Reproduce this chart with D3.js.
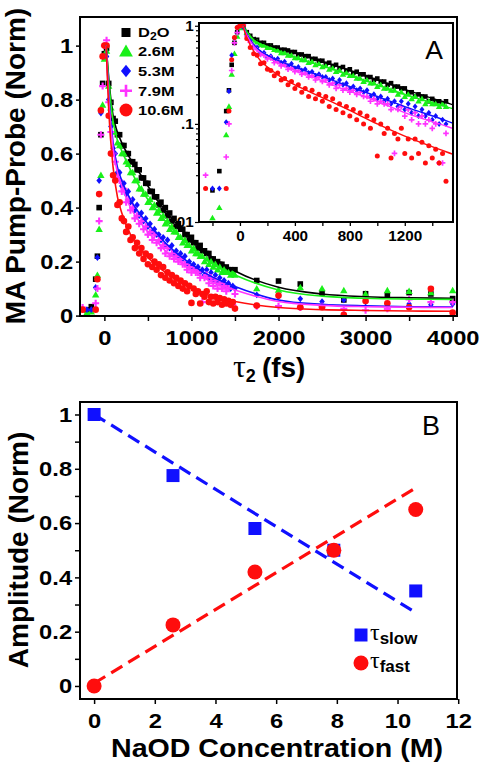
<!DOCTYPE html>
<html><head><meta charset="utf-8">
<script src="https://cdn.jsdelivr.net/npm/d3@7"></script>
<style>
body{margin:0;background:#fff}
svg{display:block}
text{font-family:"Liberation Sans",Arial,sans-serif}
</style>
</head><body>
<svg id="c" width="482" height="764"></svg>
<script>
// ---------------- DATA (panel A) ----------------
const times = [-250,-200,-150,-100,-80,-60,-40,-20,0,
25,50,75,100,125,150,175,200,225,250,
275,300,325,350,375,400,425,450,475,500,
525,550,575,600,625,650,675,700,725,750,
775,800,825,850,875,900,925,950,975,1000,
1025,1050,1075,1100,1125,1150,1175,1200,1225,1250,
1275,1300,1325,1350,1375,1400,1425,1450,1475,1500,
1750,2000,2250,2500,2750,3000,3250,3500,3750,4000];

const seriesD2O = [null,0.021,0.033,0.135,0.22,0.40,0.67,0.86,0.97,
0.99,0.86,0.79,0.73,0.72,0.67,0.67,0.63,0.63,0.60,
0.60,0.57,0.57,0.56,0.54,0.54,0.51,0.51,0.49,0.49,
0.46,0.46,0.44,0.44,0.41,0.42,0.39,0.40,0.37,0.38,
0.35,0.36,0.33,0.34,0.32,0.32,0.30,0.30,0.28,0.29,
0.27,0.27,0.25,0.26,0.24,0.24,0.23,0.23,0.21,0.21,
0.19,0.20,0.19,0.19,0.17,0.18,0.17,0.17,0.16,0.17,
0.13,0.128,0.117,0.083,0.058,0.081,0.076,0.085,0.08,0.063];

const series26 = [null,0.011,0.014,0.077,0.15,0.32,0.52,0.78,0.95,
0.98,0.85,0.77,0.71,0.68,0.64,0.63,0.60,0.60,0.57,
0.56,0.53,0.53,0.50,0.50,0.47,0.47,0.45,0.45,0.42,
0.43,0.40,0.41,0.38,0.39,0.36,0.37,0.34,0.35,0.32,
0.33,0.31,0.31,0.29,0.29,0.27,0.28,0.26,0.26,0.24,
0.25,0.23,0.23,0.22,0.22,0.20,0.21,0.19,0.20,0.18,
0.19,0.17,0.18,0.16,0.17,0.16,0.16,0.15,0.16,0.15,
0.10,0.095,0.104,0.10,0.093,0.08,0.093,0.09,0.085,0.093];

const series53 = [null,0.022,0.022,0.104,0.215,0.50,0.75,0.96,1.0,
0.96,0.80,0.70,0.62,0.60,0.53,0.53,0.48,0.49,0.45,
0.46,0.42,0.43,0.39,0.41,0.37,0.38,0.35,0.36,0.33,
0.34,0.31,0.32,0.30,0.30,0.28,0.29,0.26,0.28,0.25,
0.26,0.23,0.24,0.22,0.23,0.21,0.22,0.19,0.20,0.18,
0.19,0.17,0.18,0.16,0.17,0.15,0.17,0.14,0.16,0.13,
0.15,0.12,0.14,0.12,0.13,0.11,0.12,0.10,0.11,0.10,
0.077,0.07,0.062,0.052,0.058,0.05,0.04,0.043,0.04,0.043];

const series79 = [0.030,null,null,0.046,0.10,0.35,0.67,0.85,1.0,
1.02,0.79,0.68,0.60,0.57,0.51,0.50,0.46,0.47,0.42,
0.43,0.39,0.40,0.36,0.37,0.34,0.35,0.32,0.33,0.30,
0.31,0.28,0.30,0.27,0.28,0.25,0.26,0.23,0.25,0.22,
0.23,0.21,0.22,0.20,0.21,0.19,0.19,0.17,0.18,0.16,
0.17,0.16,0.16,0.14,0.05,0.14,0.15,0.12,0.14,0.11,
0.13,0.10,0.12,0.10,0.11,0.09,0.10,0.04,0.04,0.08,
0.035,0.035,0.03,0.035,0.025,0.02,0.025,0.06,0.05,0.05];

const series106 = [0.022,null,null,0.022,0.135,0.45,0.76,0.96,1.0,
1.0,0.74,0.60,0.52,0.50,0.41,0.42,0.36,0.35,0.31,
0.33,0.28,0.29,0.25,0.27,0.23,0.25,0.21,0.23,0.19,
0.22,0.18,0.20,0.17,0.19,0.15,0.18,0.14,0.16,0.13,
0.15,0.12,0.14,0.11,0.13,0.10,0.12,0.09,0.11,0.047,
0.10,0.08,0.09,0.045,0.08,0.07,0.09,0.05,0.07,0.045,
0.07,0.05,0.065,0.04,0.06,0.045,0.055,0.04,0.05,0.026,
0.037,0.074,0.031,0.031,0.003,0.054,0.046,0.031,0.099,0.011];

const seriesLabels = ["D2O","2.6M","5.3M","7.9M","10.6M"];

// fit curves (sampled)
const fitTimes = [20,50,100,150,200,300,400,500,600,700,800,1000,1200,1500,2000,2500,3000,3500,4000];
const fitD2O = [1.0,0.88,0.74,0.68,0.64,0.58,0.53,0.48,0.43,0.39,0.35,0.28,0.225,0.165,0.105,0.08,0.07,0.066,0.064];
const fit26  = [1.0,0.87,0.72,0.65,0.61,0.54,0.48,0.43,0.39,0.35,0.315,0.25,0.20,0.15,0.095,0.072,0.064,0.061,0.06];
const fit53  = [1.0,0.82,0.64,0.55,0.50,0.43,0.38,0.34,0.305,0.27,0.24,0.19,0.15,0.108,0.058,0.042,0.036,0.033,0.032];
const fit79  = [1.0,0.80,0.62,0.53,0.48,0.40,0.35,0.31,0.275,0.24,0.215,0.17,0.13,0.095,0.052,0.038,0.033,0.031,0.03];
const fit106 = [1.0,0.76,0.55,0.44,0.38,0.30,0.25,0.215,0.185,0.16,0.137,0.10,0.075,0.052,0.03,0.022,0.019,0.017,0.016];

// ticks
const mainXTicks = [0,1000,2000,3000,4000];
const mainXLabels = ["0","1000","2000","3000","4000"];
const mainXMinor = [500,1500,2500,3500];
const mainYTicks = [0,0.2,0.4,0.6,0.8,1];
const mainYLabels = ["0","0.2","0.4","0.6","0.8","1"];
const insetXTicks = [0,400,800,1200];
const insetXLabels = ["0","400","800","1200"];
const insetXMinor = [-200,200,600,1000,1400];
const insetYTicks = [0.01,0.1,1];
const insetYLabels = [".01",".1","1"];
const insetYMinor = [0.02,0.03,0.04,0.05,0.06,0.07,0.08,0.09,0.2,0.3,0.4,0.5,0.6,0.7,0.8,0.9];

// ---------------- DATA (panel B) ----------------
const concentrations = [0,2.6,5.3,7.9,10.6];
const ampSlow = [1.0,0.775,0.58,0.50,0.35];
const ampFast = [0.0,0.225,0.42,0.50,0.65];
const fitConc = [0,10.6];
const fitSlowLine = [1.0,0.27];
const fitFastLine = [0.01,0.73];
const bXTicks = [0,2,4,6,8,10,12];
const bXLabels = ["0","2","4","6","8","10","12"];
const bYTicks = [0,0.2,0.4,0.6,0.8,1];
const bYLabels = ["0","0.2","0.4","0.6","0.8","1"];
const bYMinor = [0.1,0.3,0.5,0.7,0.9];

// ---------------- STYLE ----------------
const colors = ["#000000","#19f019","#1010ff","#ff33ff","#ff0d0d"];
const shapes = ["square","triangle","diamond","plus","circle"];
const mainSizes = [5.6,6.4,6.8,7,6.6];
const insetSizes = [4.6,5.6,6,5.6,5];

function markerPath(shape, s){
  const h = s/2;
  switch(shape){
    case "square": return `M${-h},${-h}h${s}v${s}h${-s}Z`;
    case "triangle": { const w = s*1.15; return `M0,${-s*0.58}L${w/2},${s*0.42}L${-w/2},${s*0.42}Z`; }
    case "diamond": return `M0,${-h}L${h*0.82},0L0,${h}L${-h*0.82},0Z`;
    case "plus": return `M${-h},0H${h}M0,${-h}V${h}`;
    case "circle": return `M${h},0A${h},${h} 0 1,1 ${-h},0A${h},${h} 0 1,1 ${h},0Z`;
  }
}
function styleMarker(sel, shape, color, s){
  if(shape==="plus") sel.attr("fill","none").attr("stroke",color).attr("stroke-width",Math.max(1.6,s*0.3));
  else sel.attr("fill",color).attr("stroke","none");
}

const svg = d3.select("#c");
svg.append("rect").attr("width",482).attr("height",764).attr("fill","#fff");
const defs = svg.append("defs");

const allSeries = [seriesD2O,series26,series53,series79,series106];
const allFits = [fitD2O,fit26,fit53,fit79,fit106];

function styleAxis(g, size, sx, sw){
  g.selectAll(".domain").remove();
  g.selectAll(".tick text").attr("font-size",size).attr("font-weight","bold").attr("fill","#000")
    .attr("transform",`scale(${sx},1)`);
  g.selectAll("line").attr("stroke","#000").attr("stroke-width",sw);
}

// ================= PANEL A =================
const M = {l:80,r:457,t:17,b:316};
const xM = d3.scaleLinear().domain([-280,4050]).range([M.l,M.r]);
const yM = d3.scaleLinear().domain([-0.0015,1.106]).range([M.b,M.t]);

defs.append("clipPath").attr("id","clipM").append("rect")
  .attr("x",M.l).attr("y",M.t).attr("width",M.r-M.l).attr("height",M.b-M.t);

const gxM = svg.append("g").attr("transform",`translate(0,${M.b})`)
  .call(d3.axisBottom(xM).tickValues(mainXTicks).tickFormat((d,i)=>mainXLabels[i]).tickSize(5).tickPadding(9).tickSizeOuter(0));
gxM.append("g").call(d3.axisBottom(xM).tickValues(mainXMinor).tickSize(5).tickFormat("").tickSizeOuter(0));
styleAxis(gxM,21,1.13,1.5);

const gyM = svg.append("g").attr("transform",`translate(${M.l},0)`)
  .call(d3.axisLeft(yM).tickValues(mainYTicks).tickFormat((d,i)=>mainYLabels[i]).tickSize(4).tickPadding(2).tickSizeOuter(0));
styleAxis(gyM,21,1.13,1.5);

const gData = svg.append("g").attr("clip-path","url(#clipM)");
allSeries.forEach((vals,si)=>{
  const pts = times.map((t,i)=>({t,v:vals[i]})).filter(d=>d.v!=null);
  gData.append("g").selectAll("path").data(pts).join("path")
    .attr("d",markerPath(shapes[si],mainSizes[si]))
    .attr("transform",d=>`translate(${xM(d.t)},${yM(d.v)})`)
    .call(sel=>styleMarker(sel,shapes[si],colors[si],mainSizes[si]));
});
const lineM = d3.line().x(d=>xM(d.t)).y(d=>yM(d.v)).curve(d3.curveMonotoneX);
allFits.forEach((vals,si)=>{
  const pts = fitTimes.map((t,i)=>({t,v:vals[i]}));
  gData.append("path").attr("d",lineM(pts)).attr("fill","none")
    .attr("stroke",colors[si]).attr("stroke-width",1.6);
});

// legend A
const legY = [32.5,51.5,71,90.8,110];
const legBase = [37,56,76,95.5,114.5];
seriesLabels.forEach((lab,i)=>{
  const s = [9,12,12.4,12,13][i];
  const p = svg.append("path").attr("d",markerPath(shapes[i],s))
    .attr("transform",`translate(126,${legY[i]})`);
  styleMarker(p,shapes[i],colors[i],s);
  if(shapes[i]==="plus") p.attr("stroke-width",2.6);
  const t = svg.append("text").attr("transform",`translate(138,${legBase[i]}) scale(1.22,1)`)
    .attr("font-size",13.5).attr("font-weight","bold").attr("fill","#000");
  if(lab==="D2O"){
    t.append("tspan").text("D");
    t.append("tspan").attr("font-size",10).attr("dy",3).text("2");
    t.append("tspan").attr("dy",-3).text("O");
  } else t.text(lab);
});

// ---- inset ----
const I = {l:199,r:453,t:23,b:222};
const xI = d3.scaleLinear().domain([-298,1551]).range([I.l,I.r]);
const yI = d3.scaleLog().domain([0.01,1.067]).range([I.b,I.t]);
svg.append("rect").attr("x",I.l).attr("y",I.t).attr("width",I.r-I.l).attr("height",I.b-I.t).attr("fill","#fff");
defs.append("clipPath").attr("id","clipI").append("rect")
  .attr("x",I.l).attr("y",I.t).attr("width",I.r-I.l).attr("height",I.b-I.t);

const gxI = svg.append("g").attr("transform",`translate(0,${I.b})`)
  .call(d3.axisBottom(xI).tickValues(insetXTicks).tickFormat((d,i)=>insetXLabels[i]).tickSize(4).tickPadding(5).tickSizeOuter(0));
gxI.append("g").call(d3.axisBottom(xI).tickValues(insetXMinor).tickSize(4).tickFormat("").tickSizeOuter(0));
styleAxis(gxI,14.5,1.05,1.3);

const gyI = svg.append("g").attr("transform",`translate(${I.l},0)`)
  .call(d3.axisLeft(yI).tickValues(insetYTicks).tickFormat((d,i)=>insetYLabels[i]).tickSize(4).tickPadding(1).tickSizeOuter(0));
gyI.append("g").call(d3.axisLeft(yI).tickValues(insetYMinor).tickSize(3).tickFormat("").tickSizeOuter(0));
styleAxis(gyI,14.5,1.05,1.2);

const gDataI = svg.append("g").attr("clip-path","url(#clipI)");
allSeries.forEach((vals,si)=>{
  const pts = times.map((t,i)=>({t,v:vals[i]})).filter(d=>d.v!=null && d.v>=0.01 && d.t<=1560);
  gDataI.append("g").selectAll("path").data(pts).join("path")
    .attr("d",markerPath(shapes[si],insetSizes[si]))
    .attr("transform",d=>`translate(${xI(d.t)},${yI(d.v)})`)
    .call(sel=>styleMarker(sel,shapes[si],colors[si],insetSizes[si]));
});
const lineI = d3.line().x(d=>xI(d.t)).y(d=>yI(d.v)).curve(d3.curveMonotoneX);
allFits.forEach((vals,si)=>{
  const pts = fitTimes.map((t,i)=>({t,v:vals[i]}));
  gDataI.append("path").attr("d",lineI(pts)).attr("fill","none")
    .attr("stroke",colors[si]).attr("stroke-width",1.4);
});
svg.append("rect").attr("x",I.l).attr("y",I.t).attr("width",I.r-I.l).attr("height",I.b-I.t)
  .attr("fill","none").attr("stroke","#000").attr("stroke-width",2);

svg.append("text").attr("x",434).attr("y",58.5).attr("text-anchor","middle")
  .attr("font-size",26.5).attr("fill","#000").text("A");

svg.append("rect").attr("x",M.l).attr("y",M.t).attr("width",M.r-M.l).attr("height",M.b-M.t)
  .attr("fill","none").attr("stroke","#000").attr("stroke-width",2);

svg.append("text").attr("transform","translate(25,166) rotate(-90)").attr("text-anchor","middle")
  .attr("font-size",28).attr("font-weight","bold").attr("fill","#000").text("MA Pump-Probe (Norm)");
const tx = svg.append("text").attr("x",233).attr("y",377).attr("fill","#000");
tx.append("tspan").attr("font-family","'Liberation Serif','DejaVu Serif',serif").attr("font-size",32).text("τ");
tx.append("tspan").attr("font-size",18).attr("font-weight","bold").attr("dy",5).text("2");
tx.append("tspan").attr("font-size",28).attr("font-weight","bold").attr("dy",-5).attr("dx",6).text("(fs)");

// ================= PANEL B =================
const B = {l:80,r:457,t:402,b:699};
const xB = d3.scaleLinear().domain([-0.465,11.96]).range([B.l,B.r]);
const yB = d3.scaleLinear().domain([-0.048,1.046]).range([B.b,B.t]);

const gxB = svg.append("g").attr("transform",`translate(0,${B.b})`)
  .call(d3.axisBottom(xB).tickValues(bXTicks).tickFormat((d,i)=>bXLabels[i]).tickSize(5).tickPadding(9).tickSizeOuter(0));
styleAxis(gxB,21,1.13,1.5);

const gyB = svg.append("g").attr("transform",`translate(${B.l},0)`)
  .call(d3.axisLeft(yB).tickValues(bYTicks).tickFormat((d,i)=>bYLabels[i]).tickSize(5).tickPadding(2).tickSizeOuter(0));
gyB.append("g").call(d3.axisLeft(yB).tickValues(bYMinor).tickSize(5).tickFormat("").tickSizeOuter(0));
styleAxis(gyB,21,1.13,1.5);

const lineB = d3.line().x(d=>xB(d.c)).y(d=>yB(d.v));
svg.append("path").attr("d",lineB(fitConc.map((c,i)=>({c,v:fitSlowLine[i]}))))
  .attr("fill","none").attr("stroke","#1010ff").attr("stroke-width",3.2).attr("stroke-dasharray","13,7");
svg.append("path").attr("d",lineB(fitConc.map((c,i)=>({c,v:fitFastLine[i]}))))
  .attr("fill","none").attr("stroke","#ff0d0d").attr("stroke-width",3.2).attr("stroke-dasharray","13,7");

svg.append("g").selectAll("path").data(concentrations.map((c,i)=>({c,v:ampSlow[i]}))).join("path")
  .attr("d",markerPath("square",13)).attr("fill","#1010ff")
  .attr("transform",d=>`translate(${xB(d.c)},${yB(d.v)})`);
svg.append("g").selectAll("path").data(concentrations.map((c,i)=>({c,v:ampFast[i]}))).join("path")
  .attr("d",markerPath("circle",15)).attr("fill","#ff0d0d")
  .attr("transform",d=>`translate(${xB(d.c)},${yB(d.v)})`);

svg.append("path").attr("d",markerPath("square",13)).attr("fill","#1010ff").attr("transform","translate(361,635)");
svg.append("path").attr("d",markerPath("circle",15)).attr("fill","#ff0d0d").attr("transform","translate(361,663)");
[["slow",640],["fast",668]].forEach(([lab,yb])=>{
  const t = svg.append("text").attr("x",370).attr("y",yb).attr("fill","#000");
  t.append("tspan").attr("font-family","'Liberation Serif','DejaVu Serif',serif").attr("font-size",24).text("τ");
  t.append("tspan").attr("font-size",17).attr("font-weight","bold").attr("dy",4).text(lab);
});

svg.append("text").attr("x",431).attr("y",435).attr("text-anchor","middle")
  .attr("font-size",27).attr("fill","#000").text("B");

svg.append("rect").attr("x",B.l).attr("y",B.t).attr("width",B.r-B.l).attr("height",B.b-B.t)
  .attr("fill","none").attr("stroke","#000").attr("stroke-width",2);

svg.append("text").attr("transform","translate(28,550) rotate(-90)").attr("text-anchor","middle")
  .attr("font-size",28).attr("font-weight","bold").attr("fill","#000").text("Amplitude (Norm)");
svg.append("text").attr("transform","translate(277,757) scale(1.1,1)").attr("text-anchor","middle")
  .attr("font-size",26).attr("font-weight","bold").attr("fill","#000").text("NaOD Concentration (M)");
</script>
</body></html>
